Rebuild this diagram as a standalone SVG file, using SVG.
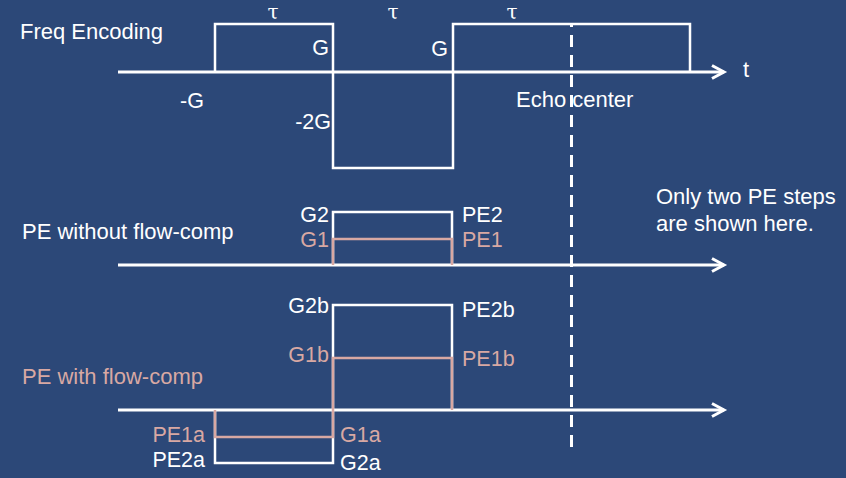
<svg xmlns="http://www.w3.org/2000/svg" width="846" height="478" viewBox="0 0 846 478">
<style>
text{font-family:"Liberation Sans",Arial,sans-serif;font-size:22px;fill:#FFFFFF}
.pk{fill:#D8A8A3}
.lbl{font-size:21.5px}
.end{text-anchor:end}
.tau{font-family:"DejaVu Serif","Liberation Serif",serif;font-size:20px;text-anchor:middle}
.ax{stroke:#FFFFFF;stroke-width:3;fill:none}
.w{stroke:#FFFFFF;stroke-width:2.5;fill:none}
.p{stroke:#D8A8A3;stroke-width:2.5;fill:none}
</style>
<defs>
<marker id="arr" markerUnits="userSpaceOnUse" markerWidth="20" markerHeight="20" refX="14" refY="8" orient="auto" overflow="visible">
<path d="M2,1.5 L14,8 L2,14.5" fill="none" stroke="#FFFFFF" stroke-width="3"/>
</marker>
</defs>
<rect width="846" height="478" fill="#2C4878"/>
<g id="connectors">
<line class="ax" x1="118" y1="72" x2="724" y2="72" marker-end="url(#arr)"/>
<line class="ax" x1="118" y1="265" x2="724" y2="265" marker-end="url(#arr)"/>
<line class="ax" x1="118" y1="410" x2="724" y2="410" marker-end="url(#arr)"/>
<line id="echo-line" x1="571.5" y1="23" x2="571.5" y2="447" stroke="#FFFFFF" stroke-width="3" stroke-dasharray="12 8" stroke-dashoffset="8"/>
</g>
<g id="freq-encoding">
<path class="w" d="M215,72 V24 H333 V168 H453 V24 H690 V72"/>
<text x="20" y="39">Freq Encoding</text>
<text class="tau" x="273" y="18.6">τ</text>
<text class="tau" x="393" y="18.6">τ</text>
<text class="tau" x="512" y="18.6">τ</text>
<text class="lbl end" x="329" y="55">G</text>
<text class="lbl end" x="448" y="56">G</text>
<text class="lbl end" x="204" y="108">-G</text>
<text class="lbl end" x="331" y="129">-2G</text>
<text x="743" y="77">t</text>
<text x="516" y="107">Echo center</text>
</g>
<g id="pe-without-flow-comp">
<path class="w" d="M333,265 V212 H452 V265"/>
<path class="p" d="M333,265 V239 H452 V265"/>
<text x="22" y="239">PE without flow-comp</text>
<text class="lbl end" x="329" y="222">G2</text>
<text class="lbl end pk" x="329" y="247">G1</text>
<text class="lbl" x="462" y="222">PE2</text>
<text class="lbl pk" x="462" y="247">PE1</text>
</g>
<g id="pe-with-flow-comp">
<path class="w" d="M452,410 V305 H333 V463 H215 V410"/>
<path class="p" d="M452,410 V358 H333 V437 H215 V410"/>
<text class="pk" x="22" y="384">PE with flow-comp</text>
<text class="lbl end" x="329" y="313">G2b</text>
<text class="lbl end pk" x="329" y="362">G1b</text>
<text class="lbl" x="462" y="317">PE2b</text>
<text class="lbl pk" x="462" y="366">PE1b</text>
<text class="lbl end pk" x="205" y="442">PE1a</text>
<text class="lbl end" x="205" y="467">PE2a</text>
<text class="lbl pk" x="340" y="442">G1a</text>
<text class="lbl" x="340" y="470">G2a</text>
</g>
<g id="note">
<text x="656" y="204">Only two PE steps</text>
<text x="656" y="231">are shown here.</text>
</g>
</svg>
